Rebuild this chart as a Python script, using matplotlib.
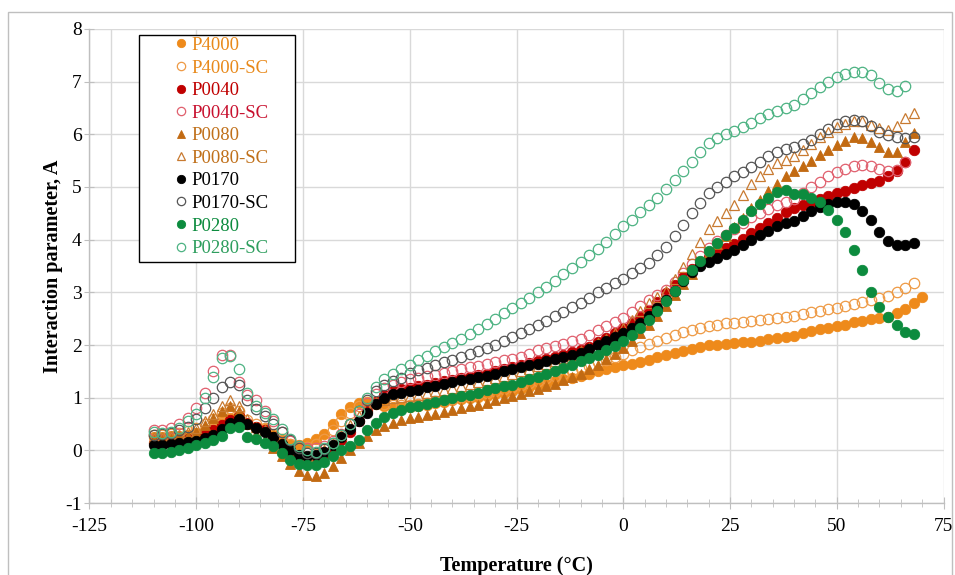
import matplotlib
matplotlib.use("Agg")
import matplotlib.pyplot as plt
from matplotlib.patches import Rectangle

plt.rcParams['font.family'] = ['Liberation Serif', 'DejaVu Serif']
plt.rcParams['axes.unicode_minus'] = False

# temperature grid of the measurements, -110 .. 70 degC every 2 degC
temp = list(range(-110, 71, 2))

p4000 = [0.25, 0.25, 0.27, 0.28, 0.30, 0.33, 0.38, 0.45, 0.55, 0.62,
         0.65, 0.50, 0.45, 0.40, 0.30, 0.20, 0.12, 0.10, 0.15, 0.22,
         0.32, 0.50, 0.70, 0.82, 0.90, 0.92, 0.88, 0.85, 0.83, 0.82,
         0.83, 0.85, 0.87, 0.90, 0.92, 0.95, 0.97, 0.99, 1.02, 1.04,
         1.07, 1.10, 1.13, 1.17, 1.20, 1.24, 1.27, 1.31, 1.35, 1.38,
         1.42, 1.46, 1.50, 1.54, 1.58, 1.62, 1.65, 1.68, 1.72, 1.77,
         1.81, 1.85, 1.89, 1.93, 1.97, 2.00, 2.01, 2.02, 2.03, 2.05,
         2.06, 2.08, 2.11, 2.14, 2.16, 2.18, 2.22, 2.26, 2.30, 2.33,
         2.36, 2.39, 2.43, 2.46, 2.49, 2.51, 2.54, 2.60, 2.68, 2.80,
         2.92]
p4000_sc = [0.30, 0.30, 0.32, 0.34, 0.37, 0.42, 0.50, 0.60, 0.72, 0.80,
            0.75, 0.58, 0.50, 0.42, 0.32, 0.22, 0.12, 0.06, 0.06, 0.12,
            0.22, 0.38, 0.55, 0.72, 0.85, 0.92, 0.92, 0.88, 0.86, 0.86,
            0.87, 0.89, 0.91, 0.93, 0.96, 0.98, 1.01, 1.04, 1.07, 1.10,
            1.13, 1.17, 1.20, 1.24, 1.28, 1.32, 1.37, 1.41, 1.46, 1.51,
            1.56, 1.61, 1.67, 1.72, 1.78, 1.84, 1.90, 1.96, 2.02, 2.08,
            2.14, 2.19, 2.24, 2.29, 2.33, 2.37, 2.39, 2.41, 2.42, 2.44,
            2.46, 2.48, 2.50, 2.52, 2.54, 2.56, 2.59, 2.62, 2.65, 2.68,
            2.71, 2.75, 2.78, 2.82, 2.86, 2.89, 2.93, 3.00, 3.08, 3.18]
p0040 = [0.15, 0.15, 0.17, 0.19, 0.21, 0.24, 0.30, 0.38, 0.48, 0.58,
         0.65, 0.52, 0.45, 0.38, 0.26, 0.10, -0.05, -0.18, -0.23, -0.20,
         -0.10, 0.05, 0.20, 0.36, 0.55, 0.75, 0.92, 1.05, 1.12, 1.16,
         1.19, 1.22, 1.25, 1.28, 1.31, 1.34, 1.37, 1.40, 1.43, 1.46,
         1.50, 1.54, 1.58, 1.62, 1.66, 1.70, 1.74, 1.78, 1.82, 1.86,
         1.90, 1.97, 2.05, 2.13, 2.22, 2.32, 2.42, 2.53, 2.66, 2.82,
         2.98, 3.14, 3.30, 3.44, 3.57, 3.68, 3.76, 3.84, 3.92, 4.02,
         4.12, 4.22, 4.32, 4.42, 4.52, 4.60, 4.66, 4.72, 4.78, 4.83,
         4.88, 4.93, 4.98, 5.03, 5.08, 5.12, 5.20, 5.30, 5.48, 5.70]
p0040_sc = [0.38, 0.38, 0.42, 0.50, 0.62, 0.80, 1.10, 1.50, 1.82, 1.82,
            1.30, 1.05, 0.95, 0.75, 0.56, 0.35, 0.18, 0.08, 0.04, 0.04,
            0.08, 0.18, 0.32, 0.50, 0.70, 0.90, 1.08, 1.18, 1.25, 1.30,
            1.35, 1.38, 1.41, 1.44, 1.47, 1.50, 1.54, 1.58, 1.61, 1.64,
            1.68, 1.71, 1.74, 1.78, 1.84, 1.90, 1.94, 1.98, 2.02, 2.07,
            2.12, 2.20, 2.29, 2.37, 2.44, 2.52, 2.63, 2.74, 2.85, 2.95,
            3.05, 3.20, 3.37, 3.53, 3.69, 3.85, 3.97, 4.09, 4.21, 4.32,
            4.43, 4.51, 4.58, 4.65, 4.71, 4.77, 4.88, 5.00, 5.10, 5.20,
            5.28, 5.35, 5.40, 5.42, 5.40, 5.35, 5.30, 5.33, 5.48]
p0080 = [0.20, 0.20, 0.22, 0.25, 0.28, 0.35, 0.48, 0.62, 0.75, 0.85,
         0.75, 0.50, 0.32, 0.20, 0.05, -0.10, -0.25, -0.38, -0.47, -0.48,
         -0.42, -0.30, -0.15, 0.00, 0.15, 0.28, 0.38, 0.46, 0.52, 0.57,
         0.61, 0.64, 0.67, 0.70, 0.73, 0.77, 0.80, 0.84, 0.87, 0.91,
         0.95, 0.99, 1.03, 1.07, 1.12, 1.17, 1.22, 1.27, 1.33, 1.39,
         1.46, 1.54, 1.63, 1.73, 1.84, 1.95, 2.08, 2.22, 2.38, 2.56,
         2.75, 2.95, 3.15, 3.35, 3.55, 3.75, 3.91, 4.07, 4.24, 4.42,
         4.60, 4.76, 4.92, 5.06, 5.20, 5.30, 5.40, 5.50, 5.60, 5.70,
         5.80, 5.88, 5.95, 5.92, 5.85, 5.75, 5.67, 5.67, 5.85, 6.02]
p0080_sc = [0.25, 0.25, 0.27, 0.30, 0.35, 0.42, 0.55, 0.70, 0.85, 0.95,
            0.85, 0.60, 0.45, 0.38, 0.25, 0.10, -0.02, -0.10, -0.13, -0.10,
            0.00, 0.15, 0.30, 0.48, 0.65, 0.82, 0.92, 0.96, 0.99, 1.01,
            1.03, 1.06, 1.09, 1.12, 1.15, 1.18, 1.22, 1.26, 1.30, 1.34,
            1.38, 1.42, 1.46, 1.50, 1.55, 1.60, 1.65, 1.70, 1.76, 1.82,
            1.88, 1.95, 2.03, 2.12, 2.22, 2.33, 2.48, 2.64, 2.80, 2.92,
            3.02, 3.25, 3.48, 3.72, 3.96, 4.20, 4.35, 4.50, 4.66, 4.85,
            5.05, 5.20, 5.35, 5.45, 5.52, 5.58, 5.70, 5.82, 5.95, 6.05,
            6.13, 6.20, 6.25, 6.25, 6.18, 6.12, 6.08, 6.15, 6.30, 6.40]
p0170 = [0.10, 0.10, 0.12, 0.14, 0.16, 0.18, 0.23, 0.30, 0.40, 0.52,
         0.60, 0.50, 0.42, 0.35, 0.25, 0.12, 0.00, -0.08, -0.10, -0.08,
         -0.02, 0.10, 0.25, 0.40, 0.55, 0.72, 0.88, 1.00, 1.07, 1.10,
         1.12, 1.15, 1.20, 1.23, 1.27, 1.30, 1.33, 1.36, 1.39, 1.42,
         1.46, 1.50, 1.54, 1.58, 1.62, 1.65, 1.69, 1.73, 1.77, 1.81,
         1.85, 1.92, 2.00, 2.08, 2.15, 2.23, 2.32, 2.42, 2.55, 2.70,
         2.85, 3.03, 3.22, 3.38, 3.50, 3.58, 3.66, 3.73, 3.80, 3.90,
         4.00, 4.08, 4.17, 4.25, 4.31, 4.36, 4.45, 4.55, 4.62, 4.68,
         4.72, 4.72, 4.68, 4.55, 4.38, 4.15, 3.97, 3.90, 3.90, 3.94]
p0170_sc = [0.30, 0.32, 0.33, 0.38, 0.45, 0.60, 0.80, 1.00, 1.20, 1.30,
            1.25, 0.95, 0.78, 0.65, 0.50, 0.35, 0.20, 0.05, -0.05, -0.05,
            0.02, 0.15, 0.30, 0.50, 0.75, 0.95, 1.12, 1.25, 1.32, 1.38,
            1.47, 1.52, 1.57, 1.62, 1.67, 1.72, 1.77, 1.83, 1.88, 1.94,
            2.00, 2.07, 2.15, 2.22, 2.30, 2.38, 2.46, 2.55, 2.63, 2.72,
            2.80, 2.90, 3.00, 3.08, 3.17, 3.25, 3.36, 3.46, 3.56, 3.70,
            3.87, 4.07, 4.28, 4.50, 4.70, 4.88, 5.00, 5.10, 5.20, 5.28,
            5.38, 5.48, 5.58, 5.66, 5.72, 5.76, 5.82, 5.90, 6.00, 6.10,
            6.20, 6.25, 6.28, 6.25, 6.15, 6.05, 5.98, 5.95, 5.92, 5.95]
p0280 = [-0.05, -0.05, -0.03, 0.00, 0.05, 0.10, 0.14, 0.20, 0.28, 0.42,
         0.45, 0.25, 0.22, 0.15, 0.08, -0.05, -0.18, -0.25, -0.28, -0.27,
         -0.22, -0.10, 0.00, 0.08, 0.20, 0.38, 0.52, 0.63, 0.72, 0.77,
         0.82, 0.85, 0.88, 0.92, 0.95, 0.99, 1.03, 1.06, 1.10, 1.14,
         1.18, 1.22, 1.25, 1.29, 1.35, 1.40, 1.45, 1.50, 1.56, 1.62,
         1.69, 1.75, 1.82, 1.90, 1.98, 2.08, 2.20, 2.32, 2.48, 2.65,
         2.83, 3.03, 3.24, 3.43, 3.60, 3.78, 3.93, 4.08, 4.23, 4.38,
         4.54, 4.68, 4.80, 4.90, 4.95, 4.87, 4.87, 4.80, 4.72, 4.56,
         4.37, 4.15, 3.80, 3.42, 3.01, 2.73, 2.54, 2.38, 2.25, 2.21]
p0280_sc = [0.35, 0.33, 0.36, 0.42, 0.55, 0.70, 1.00, 1.40, 1.75, 1.80,
            1.55, 1.10, 0.85, 0.72, 0.60, 0.40, 0.22, 0.08, 0.00, -0.02,
            0.05, 0.15, 0.30, 0.50, 0.75, 1.00, 1.20, 1.35, 1.45, 1.55,
            1.63, 1.71, 1.79, 1.88, 1.96, 2.04, 2.12, 2.21, 2.30, 2.40,
            2.50, 2.60, 2.70, 2.80, 2.90, 3.00, 3.11, 3.22, 3.34, 3.46,
            3.58, 3.70, 3.82, 3.95, 4.10, 4.25, 4.38, 4.52, 4.65, 4.80,
            4.97, 5.13, 5.30, 5.48, 5.66, 5.83, 5.92, 6.00, 6.07, 6.14,
            6.21, 6.30, 6.38, 6.45, 6.50, 6.56, 6.66, 6.78, 6.90, 7.00,
            7.08, 7.14, 7.18, 7.18, 7.12, 6.98, 6.85, 6.82, 6.92]

# (label, values, marker, color, filled, legend text color)
series = [
    ("P4000", p4000, "o", "#EE8A1B", True, "#E8891A"),
    ("P4000-SC", p4000_sc, "o", "#EE9A45", False, "#E8891A"),
    ("P0040", p0040, "o", "#C00000", True, "#C00000"),
    ("P0040-SC", p0040_sc, "o", "#E0606E", False, "#C8102E"),
    ("P0080", p0080, "^", "#C26A12", True, "#C0701A"),
    ("P0080-SC", p0080_sc, "^", "#C87A30", False, "#C0701A"),
    ("P0170", p0170, "o", "#000000", True, "#000000"),
    ("P0170-SC", p0170_sc, "o", "#555555", False, "#000000"),
    ("P0280", p0280, "o", "#0C8B3E", True, "#0C8B3E"),
    ("P0280-SC", p0280_sc, "o", "#4DB383", False, "#2E9E5E"),
]

fig = plt.figure(figsize=(9.55, 5.75), dpi=100)
ax = fig.add_axes([0.0937, 0.1249, 0.8943, 0.8249])

grid_c = "#D9D9D9"
axis_c = "#BFBFBF"

for lab, vals, mk, col, filled, tcol in series:
    x = temp[:len(vals)]
    if filled:
        ax.plot(x, vals, linestyle="none", marker=mk, markersize=7.5,
                markerfacecolor=col, markeredgecolor=col, markeredgewidth=0.6,
                label=lab, zorder=3)
    else:
        ax.plot(x, vals, linestyle="none", marker=mk, markersize=7.5,
                markerfacecolor="none", markeredgecolor=col, markeredgewidth=0.9,
                label=lab, zorder=3)

ax.set_xlim(-125, 75)
ax.set_ylim(-1, 8)
ax.set_xticks(range(-125, 76, 25))
ax.set_xticks(range(-125, 76, 5), minor=True)
ax.set_yticks(range(-1, 9))

ax.grid(True, which="major", color=grid_c, linewidth=1, zorder=0)
ax.axvline(-120, color=grid_c, linewidth=1, zorder=0)
ax.set_axisbelow(True)

for s in ["top", "right"]:
    ax.spines[s].set_visible(False)
for s in ["left", "bottom"]:
    ax.spines[s].set_color(axis_c)
    ax.spines[s].set_linewidth(1)

ax.tick_params(axis="both", which="both", direction="inout", color=axis_c,
               labelsize=14, labelcolor="black")
ax.tick_params(axis="x", which="major", length=9, pad=6)
ax.tick_params(axis="x", which="minor", length=6)
ax.tick_params(axis="y", which="major", length=7, pad=2)

ax.set_xlabel("Temperature (°C)", fontsize=14.5, fontweight="bold", labelpad=15)
ax.set_ylabel("Interaction parameter, A", fontsize=14.5, fontweight="bold", labelpad=1.5)

# legend box drawn by hand so the padding matches
ax.add_patch(Rectangle((0.058, 0.5085), 0.1826, 0.4785, transform=ax.transAxes,
                       facecolor="white", edgecolor="black", linewidth=1.0,
                       zorder=4, clip_on=False))
leg = ax.legend(loc="upper left", bbox_to_anchor=(0.1001, 0.983), fontsize=13.5,
                frameon=False, handlelength=0.6, handletextpad=0.3,
                labelspacing=0.29, borderpad=0, borderaxespad=0,
                markerscale=0.8)
leg.set_zorder(5)
for txt, s in zip(leg.get_texts(), series):
    txt.set_color(s[5])

# light chart-area border
fig.patches.append(Rectangle((8 / 955, -0.02), 944 / 955, 1.02 - 12 / 575,
                             transform=fig.transFigure, fill=False,
                             edgecolor="#BFBFBF", linewidth=1))

fig.savefig("out.png", dpi=100)
